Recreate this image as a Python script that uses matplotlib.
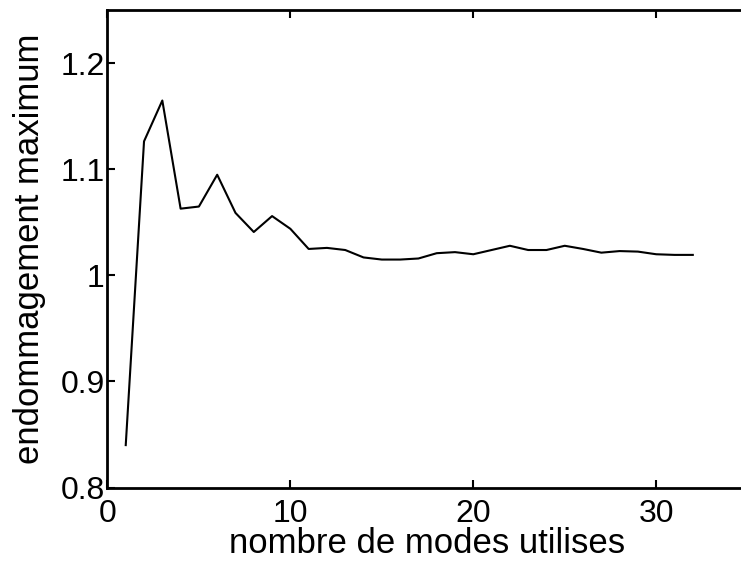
import numpy as np
import matplotlib
matplotlib.use("Agg")
import matplotlib.pyplot as plt

# nombre de modes -> endommagement maximum
modes = list(range(1, 33))
endommagement = [
    0.840, 1.1265, 1.165, 1.063, 1.065, 1.095, 1.059, 1.041, 1.056, 1.044,
    1.025, 1.026, 1.024, 1.017, 1.015, 1.015, 1.016, 1.021, 1.022, 1.020,
    1.024, 1.028, 1.024, 1.024, 1.028, 1.025, 1.0215, 1.023, 1.0225, 1.020,
    1.0194, 1.0194,
]
xticks = [0, 10, 20, 30]
yticks = [0.8, 0.9, 1.0, 1.1, 1.2]
yticklabels = ["0.8", "0.9", "1", "1.1", "1.2"]

plt.rcParams["font.family"] = ["Liberation Sans", "DejaVu Sans"]

fig = plt.figure(figsize=(7.41, 5.68), dpi=100)
# axes extends slightly past the right edge, as in the original export
ax = fig.add_axes([0.145, 0.1417, 0.864, 0.840])
ax.plot(modes, endommagement, color="black", linewidth=1.5)

ax.set_xlim(0, 35)
ax.set_ylim(0.8, 1.25)
ax.set_xticks(xticks)
ax.set_yticks(yticks)
ax.set_yticklabels(yticklabels)
ax.tick_params(direction="in", length=6, width=1.5, labelsize=23,
               top=True, right=False)
ax.tick_params(axis="x", pad=8)
ax.tick_params(axis="y", pad=2)
for s in ax.spines.values():
    s.set_linewidth(2)

ax.set_xlabel("nombre de modes utilises", fontsize=25, labelpad=-1)
ax.set_ylabel("endommagement maximum", fontsize=25, labelpad=10)

fig.savefig("out.png", dpi=100)
